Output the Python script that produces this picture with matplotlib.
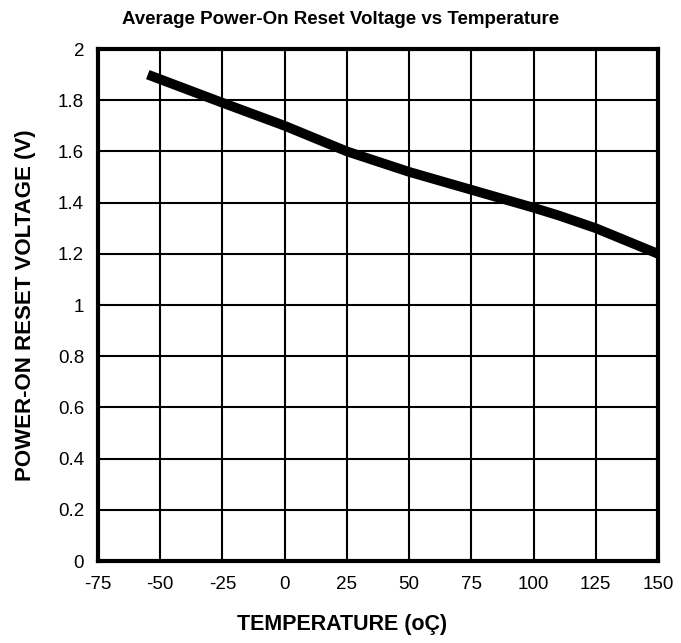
import matplotlib
matplotlib.use("Agg")
import matplotlib.pyplot as plt

plt.rcParams['font.family'] = ['Liberation Sans', 'DejaVu Sans']
plt.rcParams['axes.unicode_minus'] = False

temperature = [-55, -25, 0, 25, 50, 75, 100, 110, 125, 150]
voltage = [1.90, 1.79, 1.70, 1.60, 1.52, 1.45, 1.38, 1.35, 1.30, 1.20]

x_ticks = [-75, -50, -25, 0, 25, 50, 75, 100, 125, 150]
y_ticks = [0, 0.2, 0.4, 0.6, 0.8, 1, 1.2, 1.4, 1.6, 1.8, 2]
y_tick_labels = ["0", "0.2", "0.4", "0.6", "0.8", "1", "1.2", "1.4", "1.6", "1.8", "2"]

fig = plt.figure(figsize=(6.81, 6.43), dpi=100)
ax = fig.add_axes([98 / 681, 82 / 643, 560 / 681, 512 / 643])

ax.plot(temperature, voltage, color="black", linewidth=7, solid_capstyle="butt", zorder=3)

ax.set_xlim(-75, 150)
ax.set_ylim(0, 2)
ax.set_xticks(x_ticks)
ax.set_yticks(y_ticks)
ax.set_yticklabels(y_tick_labels)
ax.tick_params(axis="x", length=0, labelsize=13.5, pad=11)
ax.tick_params(axis="y", length=0, labelsize=13.5, pad=10)
ax.grid(True, color="black", linewidth=1.5)

for spine in ax.spines.values():
    spine.set_linewidth(3)

# title and x label sit a bit left of the axes centre in the original
ax.set_title("Average Power-On Reset Voltage vs Temperature",
             fontsize=13.5, fontweight="bold", pad=18, x=0.434)
ax.set_xlabel("TEMPERATURE (oÇ)", fontsize=15.5, fontweight="bold", labelpad=15, x=0.436)
ax.set_ylabel("POWER-ON RESET VOLTAGE (V)", fontsize=16, fontweight="bold", labelpad=16)

fig.savefig("out.png", dpi=100)
